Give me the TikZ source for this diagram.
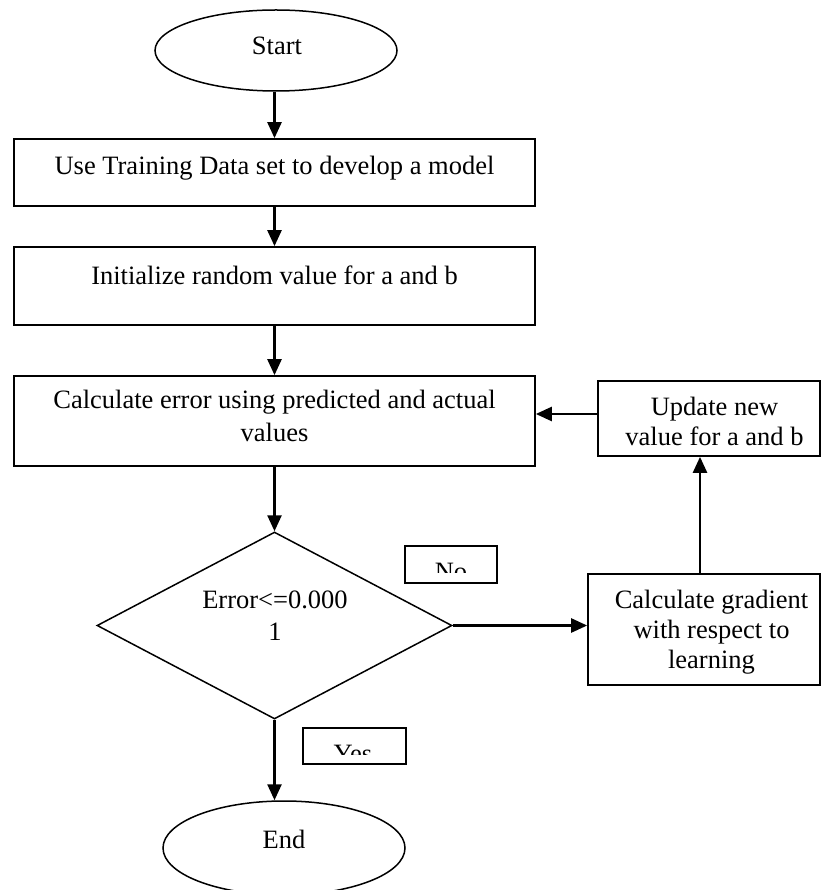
\documentclass[tikz,border=0pt]{standalone}
\usepackage{fontspec}
\setmainfont{Liberation Serif}
\usetikzlibrary{shapes.geometric,arrows.meta}
\newcommand{\fz}{\fontsize{26.5}{31}\selectfont}
\begin{document}
\begin{tikzpicture}[x=1pt,y=-1pt,
  box/.style={draw, line width=1.7pt, inner sep=0pt, rectangle},
  oval/.style={draw, line width=1.5pt, inner sep=0pt, ellipse},
  arr/.style={line width=2.5pt, -{Triangle[width=14pt,length=16pt]}},
  txt/.style={anchor=base, inner sep=0pt, font=\fz},
  lbl/.style={draw, line width=1.7pt, inner sep=0pt, rectangle}]
\useasboundingbox (0,0) rectangle (822,890);
\fill[white] (0,0) rectangle (822,890);

% shapes
\node[oval, minimum width=242pt, minimum height=81pt] (start) at (276,50.5) {};
\node[box, minimum width=521pt, minimum height=67pt] (b1) at (274.5,172.5) {};
\node[box, minimum width=521pt, minimum height=78pt] (b2) at (274.5,286) {};
\node[box, minimum width=521pt, minimum height=90pt] (b3) at (274.5,421) {};
\node[draw, line width=1.5pt, diamond, inner sep=0pt, minimum width=355pt, minimum height=187pt] (dia) at (274.5,625.5) {};
\node[box, minimum width=232pt, minimum height=111pt] (grad) at (704,629.5) {};
\node[box, minimum width=222pt, minimum height=75pt] (upd) at (709,418.5) {};
\node[oval, minimum width=242pt, minimum height=94pt] (end) at (284,848) {};
\node[lbl, minimum width=92pt, minimum height=37pt] (nobox) at (451,564.5) {};
\node[lbl, minimum width=103pt, minimum height=36pt] (yesbox) at (354.5,746) {};

% texts
\node[txt] (tstart) at (277,55) {Start};
\node[txt] (t1) at (274.5,175) {Use Training Data set to develop a model};
\node[txt] (t2) at (274.5,284) {Initialize random value for a and b};
\node[txt] (t3a) at (274.5,408) {Calculate error using predicted and actual};
\node[txt] (t3b) at (274.5,441) {values};
\node[txt] (tua) at (714.5,415) {Update new};
\node[txt] (tub) at (714.5,445) {value for a and b};
\node[txt] (tda) at (275,608) {Error<=0.000};
\node[txt] (tdb) at (275,640) {1};
\node[txt] (tga) at (711.5,608) {Calculate gradient};
\node[txt] (tgb) at (711.5,638) {with respect to};
\node[txt] (tgc) at (711.5,668) {learning};
\node[txt] (tend) at (284,848) {End};
\begin{scope}
  \clip (405,546) rectangle (497,572);
  \node[txt] (tno) at (451,580.5) {No};
\end{scope}
\begin{scope}
  \clip (303,728) rectangle (406,754);
  \node[txt] (tyes) at (353,762.5) {Yes};
\end{scope}

% connectors
\draw[arr] (b1.north |- start.south) -- (b1.north);
\draw[arr] (b1.south) -- (b2.north);
\draw[arr] (b2.south) -- (b3.north);
\draw[arr] (b3.south) -- (dia.north);
\draw[arr] (dia.east) -- (dia.east -| grad.west);
\draw[arr] ([xshift=-4pt]grad.north) -- ([xshift=-4pt]grad.north |- upd.south);
\draw[arr] ([yshift=4.5pt]upd.west) -- ([yshift=4.5pt]upd.west -| b3.east);
\draw[arr] (dia.south) -- (dia.south |- end.north);
\end{tikzpicture}
\end{document}
